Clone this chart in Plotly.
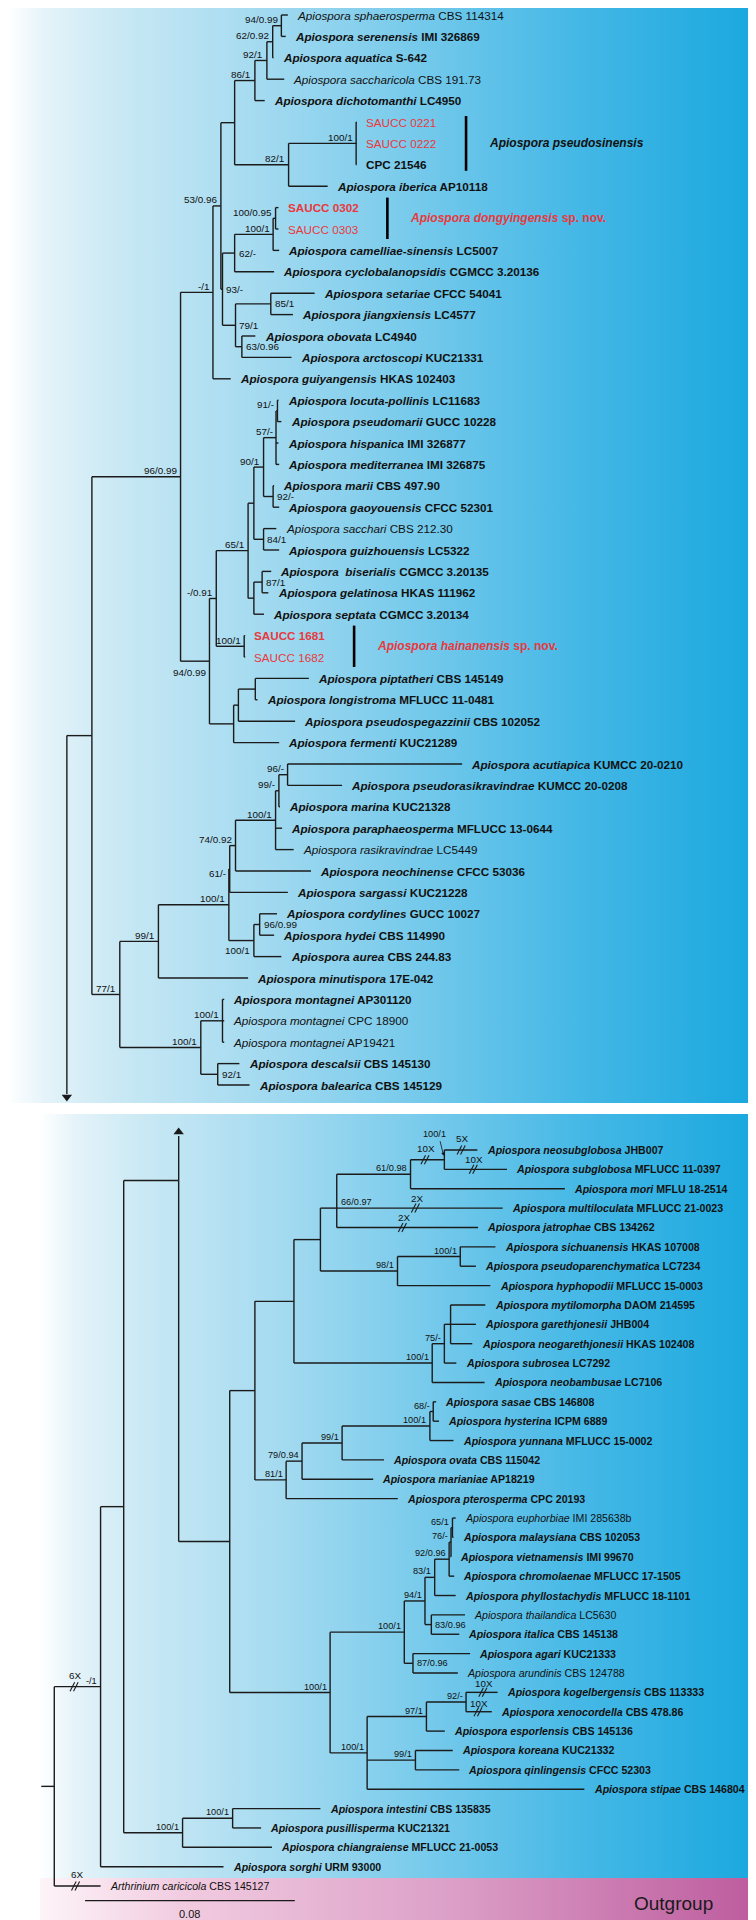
import plotly.graph_objects as go

# ---------------------------------------------------------------- data
TOP_SPECIES = [
    "Apiospora sphaerosperma", "Apiospora serenensis", "Apiospora aquatica", "Apiospora saccharicola",
    "Apiospora dichotomanthi", "", "", "", "Apiospora iberica", "", "",
    "Apiospora camelliae-sinensis", "Apiospora cyclobalanopsidis", "Apiospora setariae",
    "Apiospora jiangxiensis", "Apiospora obovata", "Apiospora arctoscopi", "Apiospora guiyangensis",
    "Apiospora locuta-pollinis", "Apiospora pseudomarii", "Apiospora hispanica", "Apiospora mediterranea",
    "Apiospora marii", "Apiospora gaoyouensis", "Apiospora sacchari", "Apiospora guizhouensis",
    "Apiospora\u00a0 biserialis", "Apiospora gelatinosa", "Apiospora septata", "", "",
    "Apiospora piptatheri", "Apiospora longistroma", "Apiospora pseudospegazzinii", "Apiospora fermenti",
    "Apiospora acutiapica", "Apiospora pseudorasikravindrae", "Apiospora marina",
    "Apiospora paraphaeosperma", "Apiospora rasikravindrae", "Apiospora neochinense",
    "Apiospora sargassi", "Apiospora cordylines", "Apiospora hydei", "Apiospora aurea",
    "Apiospora minutispora", "Apiospora montagnei", "Apiospora montagnei", "Apiospora montagnei",
    "Apiospora descalsii", "Apiospora balearica",
]
TOP_STRAINS = [
    "CBS 114314", "IMI 326869", "S-642", "CBS 191.73", "LC4950", "SAUCC 0221", "SAUCC 0222",
    "CPC 21546", "AP10118", "SAUCC 0302", "SAUCC 0303", "LC5007", "CGMCC 3.20136", "CFCC 54041",
    "LC4577", "LC4940", "KUC21331", "HKAS 102403", "LC11683", "GUCC 10228", "IMI 326877",
    "IMI 326875", "CBS 497.90", "CFCC 52301", "CBS 212.30", "LC5322", "CGMCC 3.20135",
    "HKAS 111962", "CGMCC 3.20134", "SAUCC 1681", "SAUCC 1682", "CBS 145149", "MFLUCC 11-0481",
    "CBS 102052", "KUC21289", "KUMCC 20-0210", "KUMCC 20-0208", "KUC21328", "MFLUCC 13-0644",
    "LC5449", "CFCC 53036", "KUC21228", "GUCC 10027", "CBS 114990", "CBS 244.83", "17E-042",
    "AP301120", "CPC 18900", "AP19421", "CBS 145130", "CBS 145129",
]
TOP_BOLD = [0, 1, 1, 0, 1, 0, 0, 1, 1, 1, 0, 1, 1, 1, 1, 1, 1, 1, 1, 1, 1, 1, 1, 1, 0, 1, 1, 1, 1,
            1, 0, 1, 1, 1, 1, 1, 1, 1, 1, 0, 1, 1, 1, 1, 1, 1, 1, 0, 0, 1, 1]
TOP_RED = [0, 0, 0, 0, 0, 1, 1, 0, 0, 1, 1] + [0] * 18 + [1, 1] + [0] * 20
# tip depths (tree units; 145 units = 0.08 substitutions/site)
TOP_TIP_DEPTH = [193.5, 192, 183.5, 191, 177.5, 241, 241, 241, 221, 187, 187, 187.5, 184, 212, 197,
                 171, 196, 154, 187, 189, 187, 187.5, 184, 187.5, 185.5, 187.5, 182, 180, 177, 164,
                 164, 208, 172.5, 198.5, 187.5, 314, 231, 188, 189.5, 197.5, 209.5, 193.5, 186, 184,
                 189, 166, 149.5, 149.5, 149.5, 160, 167]

BOT_SPECIES = [
    "Apiospora neosubglobosa", "Apiospora subglobosa", "Apiospora mori", "Apiospora multiloculata",
    "Apiospora jatrophae", "Apiospora sichuanensis", "Apiospora pseudoparenchymatica",
    "Apiospora hyphopodii", "Apiospora mytilomorpha", "Apiospora garethjonesii",
    "Apiospora neogarethjonesii", "Apiospora subrosea", "Apiospora neobambusae", "Apiospora sasae",
    "Apiospora hysterina", "Apiospora yunnana", "Apiospora ovata", "Apiospora marianiae",
    "Apiospora pterosperma", "Apiospora euphorbiae", "Apiospora malaysiana", "Apiospora vietnamensis",
    "Apiospora chromolaenae", "Apiospora phyllostachydis", "Apiospora thailandica", "Apiospora italica",
    "Apiospora agari", "Apiospora arundinis", "Apiospora kogelbergensis", "Apiospora xenocordella",
    "Apiospora esporlensis", "Apiospora koreana", "Apiospora qinlingensis", "Apiospora stipae",
    "Apiospora intestini", "Apiospora pusillisperma", "Apiospora chiangraiense", "Apiospora sorghi",
    "Arthrinium caricicola",
]
BOT_STRAINS = [
    "JHB007", "MFLUCC 11-0397", "MFLU 18-2514", "MFLUCC 21-0023", "CBS 134262", "HKAS 107008",
    "LC7234", "MFLUCC 15-0003", "DAOM 214595", "JHB004", "HKAS 102408", "LC7292", "LC7106",
    "CBS 146808", "ICPM 6889", "MFLUCC 15-0002", "CBS 115042", "AP18219", "CPC 20193",
    "IMI 285638b", "CBS 102053", "IMI 99670", "MFLUCC 17-1505", "MFLUCC 18-1101", "LC5630",
    "CBS 145138", "KUC21333", "CBS 124788", "CBS 113333", "CBS 478.86", "CBS 145136", "KUC21332",
    "CFCC 52303", "CBS 146804", "CBS 135835", "KUC21321", "MFLUCC 21-0053", "URM 93000", "CBS 145127",
]
BOT_BOLD = [1] * 19 + [0, 1, 1, 1, 1, 0, 1, 1, 0] + [1] * 10 + [0]
BOT_TIP_DEPTH = [324.5, 345, 385, 342, 325, 337, 323.5, 333.5, 330, 323.5, 321, 310, 329.5, 296, 298,
                 308, 260, 252.5, 269.5, 309.5, 308, 306, 308.5, 309.5, 316, 312, 319.5, 311, 338.5,
                 334.5, 302, 307.5, 312, 398.5, 216, 175, 182.5, 149, 64]

SCALE_BAR = 0.08
DEPTH_PER_UNIT = 145 / 0.08

# ---------------------------------------------------------------- style
W, H = 756, 1920
XMAX = 522.7            # tree units spanning the page width
TOP_Y0, TOP_DY = 7.0, 21.4
BOT_Y0, BOT_DY = 1142.0, 19.37
FONT = "Liberation Sans, Arial, Helvetica, sans-serif"
RED = "#e8393d"
INK = "#111111"
LINE = "#1b1b1b"
GAP = 5.0
TOP_FS, BOT_FS = 11.7, 10.6
TOP_SUP_FS, BOT_SUP_FS = 9.9, 9.2


def N(x, sup=None, kids=(), pos=("L", -6), y=None, brk=None):
    return {"x": x, "sup": sup, "kids": [k if isinstance(k, dict) else {"tip": k} for k in kids],
            "pos": pos, "y": y, "brk": brk}


def T(i, brk=None):
    return {"tip": i, "brk": brk}


R = ("R", 0)

# ---------------------------------------------------------------- trees
top_tree = N(40.7, None, [
    N(58, None, [
        N(119.3, "96/0.99", [
            N(141.7, "-/1", [
                N(147.2, "53/0.96", [
                    N(156.7, None, [
                        N(170.7, "86/1", [
                            N(179, "92/1", [
                                N(183, "62/0.92", [N(189, "94/0.99", [0, 1]), 2]),
                                3]),
                            4]),
                        N(194, "82/1", [N(240.7, "100/1", [5, 6, 7]), 8]),
                    ]),
                    N(148.3, "93/-", [
                        N(156.7, "62/-", [
                            N(183.3, "100/1", [N(185, "100/0.95", [9, 10]), 11]),
                            12], pos=R),
                        N(157.3, "79/1", [
                            N(181.7, "85/1", [13, 14], pos=R),
                            N(161.7, "63/0.96", [15, 16], pos=R)], pos=R),
                    ], pos=R),
                ]),
                17]),
            N(139.3, "94/0.99", [
                N(144, "-/0.91", [
                    N(166, "65/1", [
                        N(170, None, [
                            N(176.7, "90/1", [
                                N(185.3, "57/-", [N(186.3, "91/-", [18, 19]), 20, 21]),
                                N(183.3, "92/-", [22, 23], pos=R)]),
                            N(176.7, "84/1", [24, 25], pos=R)]),
                        N(170, None, [N(175.7, "87/1", [26, 27], pos=R), 28])]),
                    N(163.3, "100/1", [29, 30])]),
                N(156, None, [N(159.3, None, [N(171, None, [31, 32]), 33]), 34]),
            ], pos=("L", 11)),
        ]),
        N(77.3, "77/1", [
            N(104, "99/1", [
                N(152.7, "100/1", [
                    N(153.3, "61/-", [
                        N(157.3, "74/0.92", [
                            N(185, "100/1", [
                                N(187.3, "99/-", [N(193.3, "96/-", [35, 36]), 37]),
                                38, 39]),
                            40]),
                        41], pos=("L", 5)),
                    N(170, "100/1", [N(174, "96/0.99", [42, 43], pos=R), 44], pos=("L", 10))]),
                45]),
            N(133.3, "100/1", [N(148.3, "100/1", [46, 47, 48]), N(145, "92/1", [49, 50], pos=R)]),
        ]),
    ]),
])

bot_tree = N(32, None, [
    N(64, "-/1", [
        N(80, None, [
            N(118, None, [
                N(153.3, None, [
                    N(170.7, None, [
                        N(197.7, None, [
                            N(216, None, [
                                N(227.3, "66/0.97", [
                                    N(278.3, "61/0.98", [
                                        N(301.7, None, [T(0, (313.3, "5X", -12)),
                                                        T(1, (321.7, "10X", -9.5))],
                                          brk=(288.3, "10X", -11.5)),
                                        2]),
                                    T(3, (281.7, "2X", -9.5)), T(4, (272.7, "2X", -9.5))],
                                  pos=("R", -6), y=BOT_Y0 + 3 * BOT_DY),
                                N(269.3, "98/1", [N(312.7, "100/1", [5, 6]), 7])]),
                            N(293.3, "100/1", [
                                N(301.7, "75/-", [N(306, None, [8, 9, 10]), 11]),
                                12])]),
                        N(192.3, "81/1", [
                            N(203.3, "79/0.94", [
                                N(231, "99/1", [
                                    N(291.7, "100/1", [N(294, "68/-", [13, 14]), 15]),
                                    16]),
                                17]),
                            18])]),
                    N(222.7, "100/1", [
                        N(274, "100/1", [
                            N(288.3, "94/1", [
                                N(295, "83/1", [
                                    N(305, "92/0.96", [
                                        N(306.3, "76/-", [N(307.3, "65/1", [19, 20]), 21]),
                                        22]),
                                    23]),
                                N(292.7, "83/0.96", [24, 25], pos=R)]),
                            N(280, "87/0.96", [26, 27], pos=R)]),
                        N(248.3, "100/1", [
                            N(289.3, "97/1", [
                                N(316.7, "92/-", [T(28, (328.3, "10X", -9)),
                                                  T(29, (325, "10X", -8))]),
                                30]),
                            N(281.7, "99/1", [31, 32]),
                            33]),
                    ]),
                ]),
            ], y=1172.5),
            N(120.7, "100/1", [N(155.3, "100/1", [34, 35]), 36]),
        ]),
        37], brk=(45.7, "6X", -11.5)),
    T(38, (46.7, "6X", -12)),
])

# ---------------------------------------------------------------- geometry
segs_x, segs_y = [], []
annotations = []
breaks = []


def seg(x0, y0, x1, y1):
    segs_x.extend([x0, x1, None])
    segs_y.extend([y0, y1, None])


def place(node, tip_x, tip_y):
    if "tip" in node:
        node["X"] = tip_x[node["tip"]]
        node["Y"] = tip_y[node["tip"]]
        return
    for k in node["kids"]:
        place(k, tip_x, tip_y)
    node["X"] = node["x"]
    ys = [k["Y"] for k in node["kids"]]
    node["Y"] = node["y"] if node["y"] is not None else (ys[0] + ys[-1]) / 2


def draw(node, fs):
    if "tip" in node:
        return
    ys = [k["Y"] for k in node["kids"]] + [node["Y"]]
    if max(ys) - min(ys) > 0.01:
        seg(node["X"], min(ys), node["X"], max(ys))
    for k in node["kids"]:
        seg(node["X"], k["Y"], k["X"], k["Y"])
        if k.get("brk"):
            breaks.append((k["brk"][0], k["Y"], k["brk"][1], k["brk"][2]))
        draw(k, fs)
    if node["sup"]:
        mode, dy = node["pos"]
        if mode == "L":
            annotations.append(dict(x=node["X"] - 1.0, y=node["Y"] + dy, text=node["sup"],
                                    xanchor="right", yanchor="middle", showarrow=False,
                                    font=dict(size=fs, color=INK, family=FONT)))
        else:
            annotations.append(dict(x=node["X"] + 1.3, y=node["Y"] + dy, text=node["sup"],
                                    xanchor="left", yanchor="middle", showarrow=False,
                                    font=dict(size=fs, color=INK, family=FONT)))


top_y = [TOP_Y0 + TOP_DY * i for i in range(len(TOP_SPECIES))]
bot_y = [BOT_Y0 + BOT_DY * i for i in range(len(BOT_SPECIES))]
place(top_tree, TOP_TIP_DEPTH, top_y)
place(bot_tree, BOT_TIP_DEPTH, bot_y)
draw(top_tree, TOP_SUP_FS)
draw(bot_tree, BOT_SUP_FS)

# root stub of the whole tree
seg(23, bot_tree["Y"], bot_tree["X"], bot_tree["Y"])
# continuation lines between the two panels
top_root = top_tree
seg(top_root["X"], top_root["Y"], top_root["X"], 1086)
j_node = bot_tree["kids"][0]["kids"][0]["kids"][0]
seg(j_node["X"], j_node["Y"], j_node["X"], 1128)


def tip_label(x, y, sp, strain, bold, red, fs):
    txt = "<i>%s</i> %s" % (sp, strain) if sp else strain
    if bold:
        txt = "<b>%s</b>" % txt
    annotations.append(dict(x=x + GAP, y=y, text=txt, xanchor="left", yanchor="middle",
                            showarrow=False,
                            font=dict(size=fs, color=RED if red else INK, family=FONT)))


for i in range(len(TOP_SPECIES)):
    tip_label(TOP_TIP_DEPTH[i], top_y[i], TOP_SPECIES[i], TOP_STRAINS[i], TOP_BOLD[i],
              TOP_RED[i], TOP_FS)
for i in range(len(BOT_SPECIES)):
    tip_label(BOT_TIP_DEPTH[i], bot_y[i], BOT_SPECIES[i], BOT_STRAINS[i], BOT_BOLD[i], 0, BOT_FS)

# clade bars
CLADES = [
    (5, 7, 6, 316.7, "<b><i>Apiospora pseudosinensis</i></b>", INK),
    (9, 10, 10, 262.3, "<b><i>Apiospora dongyingensis</i> sp. nov.</b>", RED),
    (29, 30, 10, 239.3, "<b><i>Apiospora hainanensis</i> sp. nov.</b>", RED),
]
bar_x, bar_y = [], []
for a, b, pad, bx, lab, col in CLADES:
    bar_x += [bx, bx, None]
    bar_y += [top_y[a] - pad, top_y[b] + pad, None]
    annotations.append(dict(x=bx + 14.5, y=(top_y[a] + top_y[b]) / 2, text=lab, xanchor="left",
                            yanchor="middle", showarrow=False,
                            font=dict(size=12.0, color=col, family=FONT)))

# break marks
brk_x, brk_y = [], []
for bx, by, lab, dy in breaks:
    for off in (-1.2, 1.2):
        brk_x += [bx + off - 1.6, bx + off + 1.6, None]
        brk_y += [by + 4.5, by - 4.5, None]
    annotations.append(dict(x=bx + 0.8, y=by + dy, text=lab, xanchor="center", yanchor="middle",
                            showarrow=False, font=dict(size=9.8, color=INK, family=FONT)))

# support value with pointer arrow (neosubglobosa/subglobosa node)
sub_node = bot_tree["kids"][0]["kids"][0]["kids"][0]["kids"][0]["kids"][0]["kids"][0]["kids"][0] \
    ["kids"][0]["kids"][0]["kids"][0]
annotations.append(dict(x=295, y=sub_node["Y"] - 26, text="100/1", xanchor="center",
                        yanchor="middle", showarrow=False,
                        font=dict(size=BOT_SUP_FS, color=INK, family=FONT)))
annotations.append(dict(x=sub_node["X"] - 0.5, y=sub_node["Y"] - 4, ax=298.5,
                        ay=sub_node["Y"] - 20, axref="x", ayref="y", xref="x", yref="y",
                        text="", showarrow=True, arrowhead=2, arrowsize=0.8, arrowwidth=0.8,
                        arrowcolor=INK))

# scale bar
SB_X0, SB_Y = 53.3, 1892.7
sb_len = SCALE_BAR * DEPTH_PER_UNIT
annotations.append(dict(x=SB_X0 + sb_len / 2, y=SB_Y + 13, text="%.2f" % SCALE_BAR,
                        xanchor="center", yanchor="middle", showarrow=False,
                        font=dict(size=11, color=INK, family=FONT)))
annotations.append(dict(x=460, y=1895, text="Outgroup", xanchor="center", yanchor="middle",
                        showarrow=False, font=dict(size=19, color="#1a1a1a", family=FONT)))

# ---------------------------------------------------------------- figure
fig = go.Figure()

BLUE_SCALE = [[0, "#ffffff"], [0.05, "#e4f3f9"], [0.15, "#c8e8f4"], [0.3, "#abddf1"],
              [0.5, "#7fcdec"], [0.75, "#45b8e6"], [1, "#18a7de"]]
PINK_SCALE = [[0, "#fdf4f8"], [0.2, "#f1cbe0"], [0.55, "#dda2c9"], [1, "#bc5a9d"]]


def panel(x0, x1, y0, y1, scale):
    fig.add_trace(go.Scatter(x=[x0, x1, x1, x0, x0], y=[y0, y0, y1, y1, y0], mode="lines",
                             fill="toself", line=dict(width=0),
                             fillgradient=dict(type="horizontal", colorscale=scale),
                             hoverinfo="skip"))


panel(0, XMAX, 0, 1095, BLUE_SCALE)
panel(22, XMAX, 1106, 1870, BLUE_SCALE)
panel(22, XMAX, 1870, H, PINK_SCALE)

fig.add_trace(go.Scatter(x=segs_x, y=segs_y, mode="lines",
                         line=dict(color=LINE, width=1.4), hoverinfo="skip"))
fig.add_trace(go.Scatter(x=bar_x, y=bar_y, mode="lines",
                         line=dict(color="#000000", width=2.6), hoverinfo="skip"))
fig.add_trace(go.Scatter(x=brk_x, y=brk_y, mode="lines",
                         line=dict(color=LINE, width=1.1), hoverinfo="skip"))
fig.add_trace(go.Scatter(x=[SB_X0, SB_X0 + sb_len], y=[SB_Y, SB_Y], mode="lines",
                         line=dict(color=LINE, width=1.3), hoverinfo="skip"))
fig.add_trace(go.Scatter(x=[top_root["X"], j_node["X"]], y=[1089, 1124], mode="markers",
                         marker=dict(symbol=["triangle-down", "triangle-up"], size=9,
                                     color=LINE), hoverinfo="skip"))

fig.update_layout(
    width=W, height=H, margin=dict(l=0, r=0, t=0, b=0),
    paper_bgcolor="white", plot_bgcolor="white", showlegend=False,
    xaxis=dict(range=[0, XMAX], visible=False, fixedrange=True),
    yaxis=dict(range=[H, 0], visible=False, fixedrange=True),
    annotations=annotations,
)
fig.write_html("out.html")
